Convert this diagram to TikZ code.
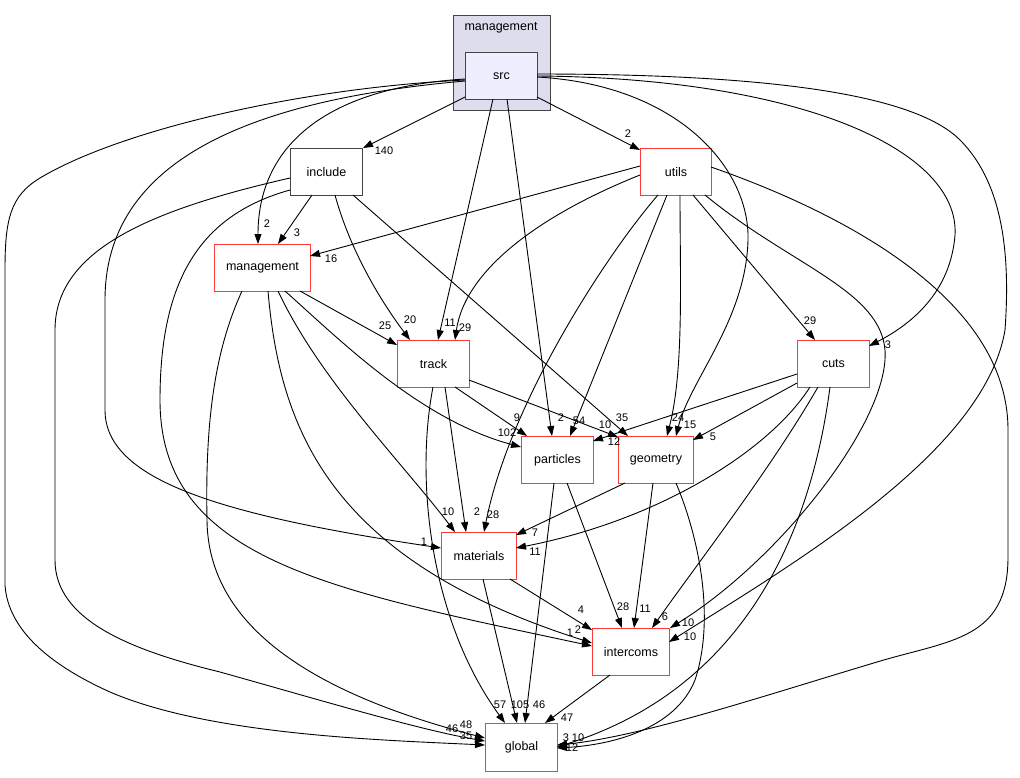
\documentclass[tikz,border=0pt]{standalone}
\usepackage{fontspec}
\setmainfont{Liberation Sans}
\usetikzlibrary{arrows.meta,calc}
\definecolor{rednode}{RGB}{255,56,56}
\definecolor{darkb}{RGB}{68,68,68}
\definecolor{clfill}{RGB}{221,221,238}
\definecolor{srcfill}{RGB}{238,238,255}
\begin{document}
\begin{tikzpicture}[x=1pt,y=-1pt,
  box/.style={draw=rednode, line width=1pt, minimum width=72pt, minimum height=47pt, inner sep=0pt, anchor=north west, font=\fontsize{12.5}{14}\selectfont, fill=white},
  edge/.style={line width=0.9pt, -{Triangle[length=10pt,width=7pt]}},
  lbl/.style={font=\fontsize{11}{12}\selectfont, inner sep=0pt}]
\fill[white] (0,0) rectangle (1020,777);
\useasboundingbox (0,0) rectangle (1020,777);
% cluster
\node[draw=darkb, fill=clfill, line width=1pt, anchor=north west, minimum width=97pt, minimum height=95pt, inner sep=0pt] (cl) at (453,15) {};
\node[lbl, font=\fontsize{12.5}{14}\selectfont] (cllbl) at (501,28) {management};
% nodes
\node[box, draw=darkb, fill=srcfill] (src) at (465,52) {src};
\node[box, draw=darkb] (include) at (290,148) {include};
\node[box, minimum width=71pt] (utils) at (640,148) {utils};
\node[box, minimum width=96pt] (mgmt) at (214,244) {management};
\node[box] (track) at (397,340) {track};
\node[box] (cuts) at (797,340) {cuts};
\node[box] (particles) at (521,436) {particles};
\node[box, minimum width=75pt] (geometry) at (618,436) {geometry};
\node[box, minimum width=75pt] (materials) at (441,532) {materials};
\node[box, minimum width=77pt] (intercoms) at (592,628) {intercoms};
\node[box, minimum height=48pt] (global) at (485,723) {global};
% ---- edges from src
\draw[edge] ($(src.north west)+(0,45)$) -- (include.north east);
\node[lbl] (l1) at (384,151) {140};
\draw[edge] ($(src.north west)+(72,45)$) -- ($(utils.north west)+(0,2)$);
\node[lbl] (l2) at (628,134) {2};
\draw[edge] ($(src.north west)+(0,27)$) .. controls (320,88) and (258,150) .. ($(mgmt.north west)+(44,0)$);
\node[lbl] (l3) at (267,224) {2};
\draw[edge] ($(src.north west)+(28,47)$) -- ($(track.north west)+(41,0)$);
\node[lbl] (l4) at (450,323) {11};
\draw[edge] ($(src.north west)+(42,47)$) -- ($(particles.north west)+(31,0)$);
\node[lbl] (l5) at (561,418) {2};
\draw[edge] ($(src.north west)+(72,25)$) .. controls (680,85) and (750,170) .. (748,240) .. controls (746,320) and (690,380) .. ($(geometry.north west)+(58,0)$);
\node[lbl] (l6) at (690,425) {15};
\draw[edge] ($(src.north west)+(72,24)$) .. controls (800,78) and (960,150) .. (955,235) .. controls (950,300) and (900,330) .. ($(cuts.north west)+(72,6)$);
\node[lbl] (l7) at (888,345) {3};
\draw[edge] ($(src.north west)+(72,22)$) .. controls (800,74) and (920,100) .. (960,140) .. controls (1005,185) and (1010,260) .. (1005,330) .. controls (985,450) and (800,560) .. ($(intercoms.north west)+(77,14)$);
\node[lbl] (l8) at (690,637) {10};
\draw[edge] ($(src.north west)+(0,28)$) .. controls (300,88) and (120,130) .. (40,178) .. controls (10,196) and (5,220) .. (5,270) -- (5,585) .. controls (8,630) and (50,665) .. (110,692) .. controls (210,735) and (380,740) .. ($(global.north west)+(0,22)$);
\node[lbl] (l9) at (466,725) {48};
\draw[edge] ($(src.north west)+(0,29)$) .. controls (250,100) and (105,160) .. (105,300) -- (105,410) .. controls (105,480) and (220,515) .. ($(materials.north west)+(0,16)$);
\node[lbl] (l10) at (424,542) {1};
% ---- edges from include
\draw[edge] ($(include.north west)+(22,47)$) -- ($(mgmt.north west)+(64,0)$);
\node[lbl] (l11) at (297,233) {3};
\draw[edge] ($(include.north west)+(45,47)$) .. controls (350,250) and (380,300) .. ($(track.north west)+(13,0)$);
\node[lbl] (l12) at (410,320) {20};
\draw[edge] ($(include.north west)+(63,47)$) -- ($(geometry.north west)+(10,0)$);
\node[lbl] (l13) at (622,418) {35};
\draw[edge] ($(include.north west)+(0,30)$) .. controls (150,210) and (55,250) .. (55,330) -- (55,560) .. controls (55,620) and (130,650) .. (220,672) .. controls (320,700) and (420,730) .. ($(global.north west)+(0,18)$);
\node[lbl] (l14) at (452,729) {46};
\draw[edge] ($(include.north west)+(0,42)$) .. controls (200,215) and (160,280) .. (160,400) .. controls (160,560) and (330,590) .. ($(intercoms.north west)+(0,18)$);
\node[lbl] (l15) at (578,630) {2};
% ---- edges from utils
\draw[edge] ($(utils.north west)+(0,18)$) -- ($(mgmt.north west)+(96,12)$);
\node[lbl] (l16) at (331,259) {16};
\draw[edge] ($(utils.north west)+(0,27)$) .. controls (540,215) and (465,270) .. ($(track.north west)+(58,0)$);
\node[lbl] (l17) at (465,328) {29};
\draw[edge] ($(utils.north west)+(27,47)$) -- ($(particles.north west)+(49,0)$);
\node[lbl] (l18) at (579,421) {54};
\draw[edge] ($(utils.north west)+(18,47)$) .. controls (610,250) and (510,400) .. ($(materials.north west)+(43,0)$);
\node[lbl] (l19) at (493,515) {28};
\draw[edge] ($(utils.north west)+(40,47)$) .. controls (680,280) and (684,370) .. ($(geometry.north west)+(49,0)$);
\node[lbl] (l20) at (678,418) {24};
\draw[edge] ($(utils.north west)+(53,47)$) -- ($(cuts.north west)+(18,0)$);
\node[lbl] (l21) at (810,321) {29};
\draw[edge] ($(utils.north west)+(65,47)$) .. controls (790,265) and (880,290) .. (885,350) .. controls (890,420) and (780,560) .. (intercoms.north east);
\node[lbl] (l22) at (688,623) {10};
\draw[edge] ($(utils.north west)+(71,19)$) .. controls (820,205) and (1008,290) .. (1008,430) -- (1008,557) .. controls (1008,640) and (950,640) .. (877,662) .. controls (760,697) and (640,737) .. ($(global.north west)+(72,22)$);
\node[lbl] (l23) at (566,738) {3};
% ---- edges from management
\draw[edge] ($(mgmt.north west)+(86,47)$) -- ($(track.north west)+(0,5)$);
\node[lbl] (l24) at (385,326) {25};
\draw[edge] ($(mgmt.north west)+(71,47)$) .. controls (340,340) and (420,420) .. ($(particles.north west)+(0,11)$);
\node[lbl] (l25) at (507,433) {102};
\draw[edge] ($(mgmt.north west)+(64,47)$) .. controls (320,380) and (400,460) .. ($(materials.north west)+(14,0)$);
\node[lbl] (l26) at (448,512) {10};
\draw[edge] ($(mgmt.north west)+(54,47)$) .. controls (280,430) and (330,560) .. ($(intercoms.north west)+(0,15)$);
\node[lbl] (l27) at (570,633) {1};
\draw[edge] ($(mgmt.north west)+(28,47)$) .. controls (215,350) and (205,420) .. (207,520) .. controls (208,620) and (300,690) .. ($(global.north west)+(0,15)$);
\node[lbl] (l28) at (466,736) {35};
% ---- edges from track
\draw[edge] ($(track.north west)+(58,47)$) -- ($(particles.north west)+(6,0)$);
\node[lbl] (l29) at (517,418) {9};
\draw[edge] ($(track.north west)+(72,40)$) -- ($(geometry.north west)+(0,1)$);
\node[lbl] (l30) at (605,425) {10};
\draw[edge] ($(track.north west)+(48,47)$) -- ($(materials.north west)+(25,0)$);
\node[lbl] (l31) at (477,512) {2};
\draw[edge] ($(track.north west)+(36,47)$) .. controls (415,480) and (430,620) .. ($(global.north west)+(20,0)$);
\node[lbl] (l32) at (500,705) {57};
% ---- edges from cuts
\draw[edge] ($(cuts.north west)+(0,34)$) -- ($(particles.north west)+(72,5)$);
\node[lbl] (l33) at (614,442) {12};
\draw[edge] ($(cuts.north west)+(0,43)$) -- ($(geometry.north west)+(75,4)$);
\node[lbl] (l34) at (713,437) {5};
\draw[edge] ($(cuts.north west)+(13,47)$) .. controls (770,450) and (660,520) .. ($(materials.north west)+(75,16)$);
\node[lbl] (l35) at (535,552) {11};
\draw[edge] ($(cuts.north west)+(21,47)$) .. controls (770,470) and (700,560) .. ($(intercoms.north west)+(60,0)$);
\node[lbl] (l36) at (665,617) {6};
\draw[edge] ($(cuts.north west)+(33,47)$) .. controls (810,540) and (740,690) .. ($(global.north west)+(72,24)$);
\node[lbl] (l37) at (572,748) {12};
% ---- edges from particles
\draw[edge] ($(particles.north west)+(46,47)$) -- ($(intercoms.north west)+(30,0)$);
\node[lbl] (l38) at (623,607) {28};
\draw[edge] ($(particles.north west)+(33,47)$) -- ($(global.north west)+(40,0)$);
\node[lbl] (l39) at (539,705) {46};
% ---- edges from geometry
\draw[edge] ($(geometry.north west)+(7,47)$) -- ($(materials.north west)+(75,3)$);
\node[lbl] (l40) at (535,533) {7};
\draw[edge] ($(geometry.north west)+(35,47)$) -- ($(intercoms.north west)+(42,0)$);
\node[lbl] (l41) at (645,609) {11};
\draw[edge] ($(geometry.north west)+(58,47)$) .. controls (700,540) and (715,620) .. (695,680) .. controls (675,730) and (610,745) .. ($(global.north west)+(72,25)$);
\node[lbl] (l42) at (578,738) {10};
% ---- edges from materials
\draw[edge] ($(materials.north west)+(69,47)$) -- ($(intercoms.north west)+(0,2)$);
\node[lbl] (l43) at (581,610) {4};
\draw[edge] ($(materials.north west)+(42,47)$) -- ($(global.north west)+(32,0)$);
\node[lbl] (l44) at (520,705) {105};
% ---- edges from intercoms
\draw[edge] ($(intercoms.north west)+(18,47)$) -- ($(global.north west)+(60,0)$);
\node[lbl] (l45) at (567,718) {47};
\end{tikzpicture}
\end{document}
